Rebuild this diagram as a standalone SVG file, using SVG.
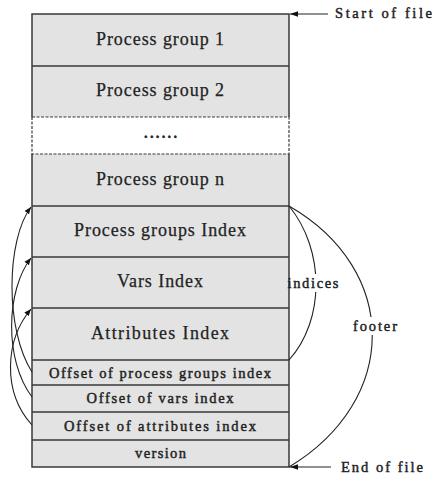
<svg xmlns="http://www.w3.org/2000/svg" width="433" height="477" viewBox="0 0 433 477">
<defs>
<style>
.cell{fill:#e3e3e3;stroke:none}
.big{font-family:"Liberation Serif",serif;font-size:18px;fill:#222;stroke:#222;stroke-width:0.25;text-anchor:middle}
.sm{font-family:"Liberation Serif",serif;font-size:14.5px;fill:#222;stroke:#222;stroke-width:0.45;text-anchor:middle}
.lab{font-family:"Liberation Serif",serif;font-size:14.5px;fill:#222;stroke:#222;stroke-width:0.45}
.border{fill:none;stroke:#3a3a3a;stroke-width:1.5}
.dash{fill:none;stroke:#3a3a3a;stroke-width:1.2;stroke-dasharray:3,1.5}
.arc{fill:none;stroke:#222;stroke-width:1.1}
</style>
<marker id="ah" viewBox="0 0 10 10" refX="10" refY="5" markerWidth="7" markerHeight="7" markerUnits="userSpaceOnUse" orient="auto">
<path d="M0,1 L10,5 L0,9 Z" fill="#111"/>
</marker>
<marker id="ah2" viewBox="0 0 10 10" refX="10" refY="5" markerWidth="10" markerHeight="8" markerUnits="userSpaceOnUse" orient="auto">
<path d="M0,1.5 L10,5 L0,8.5 Z" fill="#111"/>
</marker>
</defs>
<rect width="433" height="477" fill="#fff"/>
<g id="pg1"><rect class="cell" x="32" y="14" width="257" height="52"/><text class="big" x="160" y="44.5" textLength="128" lengthAdjust="spacing">Process group 1</text></g>
<g id="pg2"><rect class="cell" x="32" y="66" width="257" height="51"/><text class="big" x="160" y="96" textLength="128" lengthAdjust="spacing">Process group 2</text></g>
<g id="pgdots"><rect x="32" y="117" width="257" height="37" fill="#fff"/><text class="sm" x="160.5" y="138" textLength="33" lengthAdjust="spacing" style="font-weight:bold">......</text></g>
<g id="pgn"><rect class="cell" x="32" y="154" width="257" height="52"/><text class="big" x="160" y="184.5" textLength="128" lengthAdjust="spacing">Process group n</text></g>
<g id="pgindex"><rect class="cell" x="32" y="206" width="257" height="51"/><text class="big" x="160" y="236" textLength="172" lengthAdjust="spacing">Process groups Index</text></g>
<g id="varsindex"><rect class="cell" x="32" y="257" width="257" height="51"/><text class="big" x="160" y="287" textLength="86" lengthAdjust="spacing">Vars Index</text></g>
<g id="attrindex"><rect class="cell" x="32" y="308" width="257" height="52"/><text class="big" x="160" y="338.5" textLength="138" lengthAdjust="spacing">Attributes Index</text></g>
<g id="offpg"><rect class="cell" x="32" y="360" width="257" height="25"/><text class="sm" x="160" y="377.5" textLength="222" lengthAdjust="spacing">Offset of process groups index</text></g>
<g id="offvars"><rect class="cell" x="32" y="385" width="257" height="27"/><text class="sm" x="160" y="403" textLength="147" lengthAdjust="spacing">Offset of vars index</text></g>
<g id="offattr"><rect class="cell" x="32" y="412" width="257" height="28"/><text class="sm" x="160" y="430.5" textLength="192" lengthAdjust="spacing">Offset of attributes index</text></g>
<g id="version"><rect class="cell" x="32" y="440" width="257" height="27"/><text class="sm" x="160.5" y="458" textLength="51" lengthAdjust="spacing">version</text></g>
<g id="borders">
<path class="border" d="M32,117 V14 H289 V117 M32,66 H289 M32,154 V467 H289 V154 M32,206 H289 M32,257 H289 M32,308 H289 M32,360 H289 M32,385 H289 M32,412 H289 M32,440 H289"/>
<path class="dash" d="M32,117 H289 V154 H32 Z"/>
</g>
<g id="connectors">
<path class="arc" d="M32,372 C5,330 6,240 31,207" marker-end="url(#ah)"/>
<path class="arc" d="M32,397 C4,360 6,290 31,258" marker-end="url(#ah)"/>
<path class="arc" d="M32,425 C2,392 5,340 31,309" marker-end="url(#ah)"/>
<path class="arc" d="M289,206 C325,250 325,320 289,360"/>
<path class="arc" d="M289,206 C400,270 400,400 289,467"/>
<line class="arc" x1="328" y1="14" x2="290" y2="14" marker-end="url(#ah2)"/>
<line class="arc" x1="331" y1="467" x2="290" y2="467" marker-end="url(#ah2)"/>
</g>
<g id="labels">
<rect x="290" y="274" width="48" height="18" fill="#fff"/>
<text class="lab" x="287.5" y="288" textLength="51" lengthAdjust="spacing">indices</text>
<rect x="352" y="317" width="46" height="18" fill="#fff"/>
<text class="lab" x="353" y="331" textLength="44" lengthAdjust="spacing">footer</text>
<text class="lab" x="335" y="17.5" textLength="97" lengthAdjust="spacing">Start of file</text>
<text class="lab" x="341" y="471.5" textLength="82" lengthAdjust="spacing">End of file</text>
</g>
</svg>
